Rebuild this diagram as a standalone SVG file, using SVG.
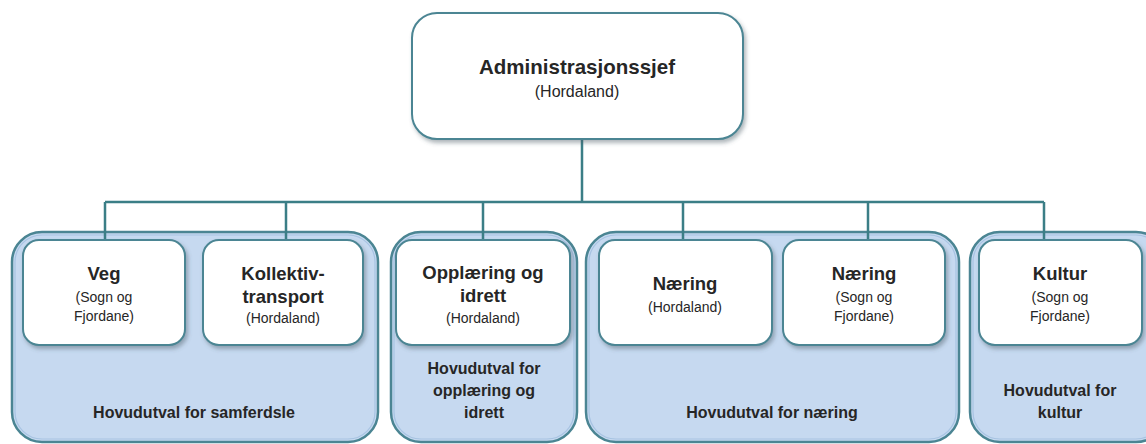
<svg xmlns="http://www.w3.org/2000/svg" width="1146" height="444" viewBox="0 0 1146 444">
<defs>
<filter id="sh" x="-10%" y="-10%" width="125%" height="130%">
<feDropShadow dx="2" dy="3" stdDeviation="2" flood-color="#4a5a66" flood-opacity="0.45"/>
</filter>
</defs>
<style>
.grp{fill:#c6d9f0;stroke:#4b8593;stroke-width:2.5}
.grpin{fill:none;stroke:#a7c3e2;stroke-width:1.2}
.box{fill:#ffffff;stroke:#4b8593;stroke-width:2;filter:url(#sh)}
.con{fill:none;stroke:#3b7e86;stroke-width:2.5}
text{font-family:"Liberation Sans",Arial,sans-serif;fill:#262626;text-anchor:middle}
.h{font-weight:bold;font-size:18.5px}
.s{font-size:14px}
.g{font-weight:bold;font-size:16px}
.t{font-weight:bold;font-size:20.5px}
.ts{font-size:16px}
</style>
<rect width="1146" height="444" fill="#ffffff"/>
<g id="groups">
<g id="grp-samferdsle">
<rect class="grp" x="12" y="232" width="366" height="210" rx="30"/>
<rect class="grpin" x="15" y="235" width="360" height="204" rx="27"/>
<text class="g" x="194" y="418">Hovudutval for samferdsle</text>
</g>
<g id="grp-opplaering">
<rect class="grp" x="391" y="232" width="186" height="210" rx="30"/>
<rect class="grpin" x="394" y="235" width="180" height="204" rx="27"/>
<text class="g" x="484" y="374">Hovudutval for</text>
<text class="g" x="484" y="396">opplæring og</text>
<text class="g" x="484" y="418">idrett</text>
</g>
<g id="grp-naering">
<rect class="grp" x="586" y="232" width="373" height="210" rx="30"/>
<rect class="grpin" x="589" y="235" width="367" height="204" rx="27"/>
<text class="g" x="772" y="418">Hovudutval for næring</text>
</g>
<g id="grp-kultur">
<rect class="grp" x="970" y="232" width="196" height="210" rx="30"/>
<rect class="grpin" x="973" y="235" width="190" height="204" rx="27"/>
<text class="g" x="1060" y="396">Hovudutval for</text>
<text class="g" x="1060" y="418">kultur</text>
</g>
</g>
<g id="connectors">
<path class="con" d="M582 139V202M105 202H1044M105 202V240M286 202V240M483 202V240M683 202V240M868 202V240M1044 202V240"/>
</g>
<g id="admin">
<rect class="box" x="412" y="13" width="331" height="126" rx="25"/>
<text class="t" x="577" y="74">Administrasjonssjef</text>
<text class="ts" x="577" y="97">(Hordaland)</text>
</g>
<g id="veg">
<rect class="box" x="23" y="240" width="162" height="105" rx="16"/>
<text class="h" x="104" y="280">Veg</text>
<text class="s" x="104" y="302">(Sogn og</text>
<text class="s" x="104" y="321">Fjordane)</text>
</g>
<g id="kollektiv">
<rect class="box" x="203" y="240" width="160" height="105" rx="16"/>
<text class="h" x="283" y="280">Kollektiv-</text>
<text class="h" x="283" y="303">transport</text>
<text class="s" x="283" y="323">(Hordaland)</text>
</g>
<g id="opplaering">
<rect class="box" x="396" y="240" width="174" height="105" rx="16"/>
<text class="h" x="483" y="279">Opplæring og</text>
<text class="h" x="483" y="302">idrett</text>
<text class="s" x="483" y="323">(Hordaland)</text>
</g>
<g id="naering-h">
<rect class="box" x="599" y="240" width="173" height="105" rx="16"/>
<text class="h" x="685" y="290">Næring</text>
<text class="s" x="685" y="312">(Hordaland)</text>
</g>
<g id="naering-sf">
<rect class="box" x="783" y="240" width="162" height="105" rx="16"/>
<text class="h" x="864" y="280">Næring</text>
<text class="s" x="864" y="302">(Sogn og</text>
<text class="s" x="864" y="321">Fjordane)</text>
</g>
<g id="kultur">
<rect class="box" x="979" y="240" width="163" height="105" rx="16"/>
<text class="h" x="1060" y="280">Kultur</text>
<text class="s" x="1060" y="302">(Sogn og</text>
<text class="s" x="1060" y="321">Fjordane)</text>
</g>
</svg>
